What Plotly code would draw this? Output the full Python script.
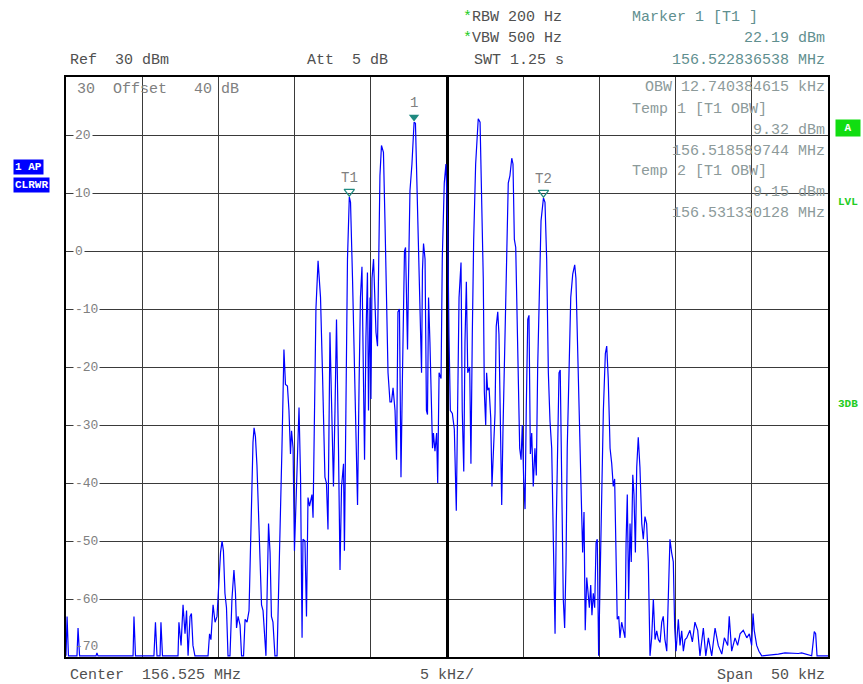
import plotly.graph_objects as go

# ---------------- data ----------------
# frequency offset from centre (kHz), centre = 156.525 MHz, span = 50 kHz
freq_offset_khz = [
    -25.00, -24.93, -24.84, -24.28, -24.21, -24.11, -23.03, -22.97, -22.90, -20.60, -20.54, -20.44, -19.23, -19.13, -19.03, -18.83, -18.77, -18.67,
    -17.65, -17.59, -17.45, -17.32, -17.19, -17.09, -16.99, -16.86, -16.77, -16.67, -16.54,
    -15.68, -15.58, -15.49, -15.35, -15.22, -15.09, -14.96, -14.86, -14.76, -14.67, -14.57, -14.47, -14.37,
    -14.24, -14.11, -13.98, -13.88, -13.81, -13.71, -13.58, -13.48, -13.35, -13.25, -13.12,
    -12.99, -12.89, -12.83, -12.73, -12.66, -12.57, -12.47, -12.37, -12.27, -12.17, -12.07, -11.94,
    -11.88, -11.81, -11.71, -11.61, -11.52, -11.42, -11.29, -11.15, -11.02, -10.89,
    -10.83, -10.76, -10.70, -10.60, -10.47, -10.37, -10.27, -10.20, -10.10, -10.01,
    -9.94, -9.81, -9.71, -9.61, -9.51, -9.45, -9.32, -9.22, -9.12, -9.02,
    -8.86, -8.79, -8.69, -8.60, -8.46, -8.30, -8.17, -8.07, -8.01, -7.91,
    -7.81, -7.68, -7.55, -7.45, -7.35, -7.25, -7.12, -7.02, -6.92, -6.79,
    -6.73, -6.63, -6.53, -6.41, -6.33, -6.20, -6.07, -5.97, -5.87, -5.77,
    -5.68, -5.58, -5.48, -5.41, -5.32, -5.22, -5.15, -5.05, -4.99, -4.92,
    -4.82, -4.76, -4.66, -4.56, -4.49, -4.40, -4.30, -4.17, -4.07, -3.97,
    -3.87, -3.74, -3.64, -3.54, -3.41, -3.31, -3.22, -3.12, -3.02, -2.92,
    -2.79, -2.72, -2.59, -2.53, -2.43, -2.30, -2.16, -2.07, -2.00, -1.87,
    -1.77, -1.67, -1.61, -1.54, -1.44, -1.35, -1.28, -1.21, -1.12, -1.02,
    -0.95, -0.89, -0.79, -0.68, -0.61, -0.52, -0.39, -0.31, -0.18, -0.07,
    0.05, 0.13, 0.22, 0.35, 0.48, 0.61, 0.70, 0.79, 0.92, 1.00,
    1.10, 1.18, 1.27, 1.36, 1.49, 1.57, 1.66, 1.75, 1.88, 2.05,
    2.17, 2.28, 2.38, 2.45, 2.54, 2.60, 2.67, 2.76, 2.87, 2.95,
    3.06, 3.15, 3.23, 3.33, 3.41, 3.50, 3.59, 3.67, 3.76, 3.85,
    3.94, 4.02, 4.13, 4.25, 4.33, 4.42, 4.51, 4.59, 4.68, 4.77,
    4.86, 4.94, 5.03, 5.12, 5.20, 5.30, 5.38, 5.47, 5.56, 5.66,
    5.77, 5.86, 5.95, 6.04, 6.17, 6.33, 6.43, 6.54, 6.65, 6.76,
    6.87, 6.98, 7.09, 7.17, 7.26, 7.35, 7.43, 7.53, 7.63, 7.72,
    7.81, 7.89, 8.01, 8.12, 8.25, 8.38, 8.46, 8.55, 8.64, 8.73,
    8.81, 8.90, 8.99, 9.07, 9.17, 9.25, 9.34, 9.43, 9.51, 9.60,
    9.69, 9.78, 9.86, 9.95, 10.04, 10.15, 10.26, 10.39, 10.48, 10.58,
    10.70, 10.81, 10.91, 11.00, 11.09, 11.17, 11.27, 11.35, 11.46, 11.57,
    11.68, 11.75, 11.83, 11.92, 12.01, 12.09, 12.19, 12.27, 12.36, 12.45,
    12.55, 12.66, 12.78, 12.88, 12.99, 13.10, 13.21, 13.32, 13.43, 13.54,
    13.65, 13.76, 13.87, 13.98, 14.09, 14.19, 14.30, 14.42, 14.52, 14.63,
    14.74, 14.85, 14.94, 15.03, 15.18, 15.29, 15.40, 15.51, 15.62, 15.73,
    15.94, 16.10, 16.27, 16.45, 16.60, 16.82, 16.98, 17.15, 17.37, 17.59,
    17.80, 18.03, 18.20, 18.42, 18.52, 18.68, 18.90, 19.07, 19.23, 19.44,
    19.67, 19.84, 19.99, 20.08, 20.16, 20.32, 20.47, 20.65,
    21.74, 22.18, 23.05, 23.27, 23.93, 24.10, 24.19, 24.28, 25.00,
]
level_dbm = [
    -69.8, -63, -69.8, -69.8, -65, -69.8, -69.8, -69.3, -69.8, -69.8, -63, -69.8, -69.8, -64, -69.8, -69.8, -64, -69.8,
    -69.8, -64, -68, -61, -66, -62, -69.8, -63, -62.5, -68, -69.8,
    -69.8, -66, -67, -61, -64, -63, -56.6, -52, -50, -51.7, -59, -61.5, -69.8,
    -69.8, -60, -55, -59, -65, -63, -64.5, -69.8, -69.8, -63.5, -64,
    -62, -50, -40.6, -33, -30.5, -32, -37, -45, -53.6, -61, -62, -67,
    -69.8, -60, -47, -52, -63, -64, -69.8, -69.8, -55.6, -45,
    -34, -25, -17, -23, -23.3, -27.5, -35, -31, -34, -51.7,
    -45, -32, -27, -39, -66.7, -49.7, -50, -63, -42.5, -44,
    -42, -46, -21, -10, -1.7, -8, -21, -35, -39, -40,
    -48, -14, -31, -40.6, -27.5, -11.8, -34, -55, -40.6, -36.7,
    -51.7, -21, -1.4, 9.32, 8.4, -4.7, -21, -34, -43.8, -23,
    -8, -2.7, -22, -36, -15, -3.7, -27.5, -8, -25.5, -4.7,
    -1.4, -5.3, -14, -16.4, -1.4, 13, 18.2, 17, 5.2, -8,
    -21, -26, -26, -23.6, -27.5, -36, -10.5, -10, -39, -21,
    0, 0.6, -17, -5.3, 10.4, 15, 22.19, 22, 14.3, 1.2,
    -10.5, -21, -3.3, 1.3, -1.4, -27.5, -28.2, -8, -15.7, -27.5,
    -34, -31.4, -34.5, -31.4, -40, -21, -22, -1.4, 11.7, 15,
    3.9, -14.4, -27.5, -28, -30.7, -44.8, -27.5, -8, -2, -27.5,
    -38, -15.7, -5.3, -21, -20, -36.7, -14.4, 1.9, 15, 22.8,
    22.2, 8.4, -4.7, -24.3, -30, -21, -24, -23.6, -28.8, -40.6,
    -33.4, -28, -13, -10.5, -14.4, -30.7, -43.8, -31.4, -20, -14.4,
    -1.4, 11.7, 13, 16, 15, 2, 0.6, -9.2, -21, -34,
    -36, -30, -39.3, -44.5, -27.5, -11.8, -11.1, -35, -31.4, -40.6,
    -34, -38.7, -20, -8, 5.2, 9.15, 8.4, -1.4, -21, -29.4,
    -34, -50.3, -66, -47, -34, -21, -20.5, -40.6, -60, -65,
    -53.6, -34, -21, -8, -4, -2.4, -4.7, -14.4, -27.5, -34,
    -47, -52, -45, -65.4, -56.3, -59, -61.5, -57.6, -62.8, -59,
    -61.5, -50.3, -49.7, -69.8, -57, -40.6, -27.5, -17.7, -16.4, -22,
    -34, -36.7, -40.6, -39.3, -53.6, -63.5, -63, -66.7, -64, -65.4,
    -66.7, -50.3, -42, -60, -47, -53.6, -38.6, -42, -52, -37.3,
    -32.1, -37.3, -47, -49.7, -45.8, -47, -53.6, -69.8, -66.7, -60,
    -67, -65.5, -67, -67.5, -64, -63, -67, -69, -59, -49.7,
    -52, -53.6, -65, -69, -63.5, -68, -65.5, -69, -67, -66.7,
    -65.4, -67.4, -64, -65.4, -69.8, -65, -69.8, -66.7, -69.8, -65,
    -68, -69.5, -66.7, -68, -63, -69, -66.7, -68, -66, -65.4,
    -66.7, -66, -68, -62.5, -65.4, -68, -69, -69.8,
    -69.5, -69.3, -69.4, -69.3, -69.8, -65.6, -66, -69.8, -69.8,
]
assert len(freq_offset_khz) == len(level_dbm)

# markers (from the marker readouts)
marker_names = ["1", "T1", "T2"]
marker_freq_mhz = [156.522836538, 156.518589744, 156.531330128]
marker_level_dbm = [22.19, 9.32, 9.15]
center_mhz = 156.525
marker_offset_khz = [(f - center_mhz) * 1000 for f in marker_freq_mhz]

y_ticks = [20, 10, 0, -10, -20, -30, -40, -50, -60, -70]

FONT = "Liberation Mono"
GRAY = "#808080"
TEAL = "#5f8f8f"
DARK = "#505050"
LIGHT = "#8c9a9a"

fig = go.Figure()
fig.add_trace(go.Scatter(
    x=freq_offset_khz, y=level_dbm, mode="lines",
    line=dict(color="#0000ff", width=1.2), hoverinfo="skip", showlegend=False))

# marker triangles (tip on the peak)
fig.add_trace(go.Scatter(
    x=marker_offset_khz[:1], y=[v + 0.9 for v in marker_level_dbm[:1]], mode="markers",
    marker=dict(symbol="triangle-down", size=9, color="#1f8a80"), showlegend=False))
fig.add_trace(go.Scatter(
    x=marker_offset_khz[1:], y=[v + 0.9 for v in marker_level_dbm[1:]], mode="markers",
    marker=dict(symbol="triangle-down-open", size=9, color="#1f8a80", line=dict(width=1.2)),
    showlegend=False))

ann = []
for name, fx, lv in zip(marker_names, marker_offset_khz, marker_level_dbm):
    ann.append(dict(x=fx, y=lv, xref="x", yref="y", text=name, showarrow=False,
                    yshift=19, font=dict(family=FONT, size=14, color=GRAY)))

# y tick labels inside plot, interrupting the grid lines
for t in y_ticks:
    if t == -70:
        ann.append(dict(x=0, y=t, xref="paper", yref="y", text="-70", showarrow=False,
                        xanchor="left", yanchor="middle", xshift=7, yshift=11,
                        font=dict(family=FONT, size=13, color=GRAY)))
    else:
        ann.append(dict(x=0, y=t, xref="paper", yref="y", text=str(t), showarrow=False,
                        xanchor="left", yanchor="middle", xshift=7, bgcolor="white",
                        borderpad=1, font=dict(family=FONT, size=13, color=GRAY)))

NB = "\u00a0"
def txt(s):
    return s.replace(" ", NB)

def label(s, px, py, anchor="left", color=DARK, size=15):
    # px, py: page pixel positions; plot area spans 66..828 x 77..657
    return dict(x=(px - 66) / 762, y=(657 - py) / 580, xref="paper", yref="paper",
                text=txt(s), showarrow=False, xanchor=anchor, yanchor="middle",
                font=dict(family=FONT, size=size, color=color))

STAR = '<span style="color:#22cc22">*</span>'
rbw = label("RBW 200 Hz", 461, 18)
rbw["text"] = STAR + txt("RBW 200 Hz")
vbw = label("VBW 500 Hz", 461, 39)
vbw["text"] = STAR + txt("VBW 500 Hz")

ann += [
    rbw, vbw,
    label("Ref  30 dBm", 68, 60),
    label("Att  5 dB", 305, 60),
    label("SWT 1.25 s", 472, 60),
    label("Marker 1 [T1 ]", 630, 18, color=TEAL),
    label("22.19 dBm", 827, 39, anchor="right", color=TEAL),
    label("156.522836538 MHz", 827, 60, anchor="right", color=TEAL),
    label("30  Offset   40 dB", 75, 89, color=GRAY),
    label("OBW 12.740384615 kHz", 827, 88, anchor="right", color=LIGHT),
    label("Temp 1 [T1 OBW]", 630, 109, color=LIGHT),
    label("9.32 dBm", 827, 130, anchor="right", color=LIGHT),
    label("156.518589744 MHz", 827, 151, anchor="right", color=LIGHT),
    label("Temp 2 [T1 OBW]", 630, 171, color=LIGHT),
    label("9.15 dBm", 827, 192, anchor="right", color=LIGHT),
    label("156.531330128 MHz", 827, 213, anchor="right", color=LIGHT),
    label("Center  156.525 MHz", 68, 675),
    label("5 kHz/", 418, 675),
    label("Span  50 kHz", 827, 675, anchor="right"),
    label("<b>LVL</b>", 836, 202, color="#22cc22", size=11),
    label("<b>3DB</b>", 836, 404, color="#22cc22", size=11),
]
# status boxes
ann.append(dict(x=(13 - 66) / 762, y=(657 - 166.5) / 580, xref="paper", yref="paper",
                text="<b>1" + NB + "AP</b>", showarrow=False, xanchor="left", yanchor="middle",
                bgcolor="#0000ff", borderpad=1, font=dict(family=FONT, size=11, color="white")))
ann.append(dict(x=(13 - 66) / 762, y=(657 - 185) / 580, xref="paper", yref="paper",
                text="<b>CLRWR</b>", showarrow=False, xanchor="left", yanchor="middle",
                bgcolor="#0000ff", borderpad=1, font=dict(family=FONT, size=11, color="white")))
ann.append(dict(x=(835 - 66) / 762, y=(657 - 128) / 580, xref="paper", yref="paper",
                text="<b>A</b>", showarrow=False, xanchor="left", yanchor="middle",
                width=22, height=14, bgcolor="#11dd11",
                font=dict(family=FONT, size=11, color="white")))

fig.update_layout(
    width=863, height=684,
    margin=dict(l=66, r=35, t=77, b=27),
    paper_bgcolor="white", plot_bgcolor="white",
    showlegend=False,
    annotations=ann,
    xaxis=dict(range=[-25, 25], dtick=5, tick0=-25, showgrid=True, gridcolor="#3a3a3a",
               gridwidth=1, showticklabels=False, ticks="", zeroline=True,
               zerolinecolor="black", zerolinewidth=2.5, showline=True, mirror=True,
               linecolor="black", linewidth=2, fixedrange=True),
    yaxis=dict(range=[-70, 30], dtick=10, tick0=-70, showgrid=True, gridcolor="#3a3a3a",
               gridwidth=1, showticklabels=False, ticks="", zeroline=False,
               showline=True, mirror=True, linecolor="black", linewidth=2, fixedrange=True),
)

# remove the default 8px page margin so the 863x684 figure fills the window exactly
fig.write_html("out.html",
               config={"displayModeBar": False},
               post_script="document.body.style.margin='0px';document.body.style.overflow='hidden';")
